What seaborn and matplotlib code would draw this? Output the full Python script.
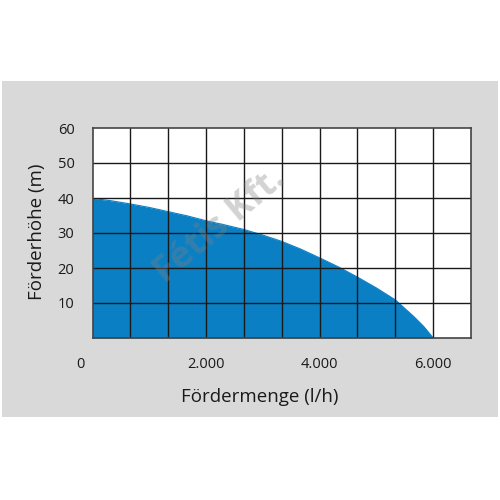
import numpy as np
import pandas as pd
import seaborn as sns
import matplotlib
matplotlib.use("Agg")
import matplotlib.pyplot as plt
from matplotlib.patches import Rectangle
from matplotlib.transforms import ScaledTranslation

# ---- data ----
flow = [0, 333, 667, 1000, 1333, 1667, 2000, 2333, 2667, 3000, 3333, 3667,
        4000, 4333, 4667, 5000, 5333, 5667, 5833, 6000]
head = [39.9, 39.2, 38.3, 37.3, 36.1, 34.9, 33.5, 32.3, 31.0, 29.4, 27.6, 25.4,
        22.9, 20.3, 17.4, 14.3, 10.9, 6.0, 3.3, 0.0]
x_ticks = [0, 2000, 4000, 6000]
x_tick_labels = ["0", "2.000", "4.000", "6.000"]
y_ticks = [10, 20, 30, 40, 50, 60]
y_tick_labels = ["10", "20", "30", "40", "50", "60"]
x_label = "Fördermenge (l/h)"
y_label = "Förderhöhe (m)"
watermark = "Fétis Kft."

df = pd.DataFrame({"flow": flow, "head": head})

sns.set_theme(style="white")
plt.rcParams["font.family"] = ["Open Sans", "DejaVu Sans"]

fig = plt.figure(figsize=(5, 5), dpi=100)
fig.patch.set_facecolor("white")
band = Rectangle((0.004, 1 - 416.5 / 500), 0.992, (416.5 - 81) / 500,
                 transform=fig.transFigure, facecolor="#d9d9d9",
                 edgecolor="none", zorder=-5)
fig.patches.append(band)

ax = fig.add_axes([92.5 / 500, 1 - 338 / 500, (471 - 92.5) / 500, (338 - 128) / 500])
ax.set_zorder(1)
ax.set_facecolor("white")

col = 2000 / 3
xmax = 10 * col
blue = "#0b7fc4"
sns.lineplot(data=df, x="flow", y="head", ax=ax, color=blue, lw=0.8, zorder=2)
ax.fill_between(df["flow"], df["head"], 0, color=blue, lw=0, zorder=2)

ax.set_xlim(0, xmax)
ax.set_ylim(0, 60)

# grid
for i in range(1, 10):
    ax.axvline(i * col, color="#1a1a1a", lw=1.0, zorder=3)
for v in range(10, 60, 10):
    ax.axhline(v, color="#1a1a1a", lw=1.0, zorder=3)

ax.set_xticks(x_ticks)
ax.set_xticklabels(x_tick_labels)
ax.set_yticks(y_ticks)
ax.set_yticklabels(y_tick_labels)
ax.tick_params(axis="both", length=0, labelsize=10.5, colors="#1a1a1a")
ax.tick_params(axis="x", pad=13.5)
ax.tick_params(axis="y", pad=13)
# shift "0" label to the left as in the reference
lbl0 = ax.get_xticklabels()[0]
lbl0.set_transform(lbl0.get_transform() + ScaledTranslation(-12 / 100, 0, fig.dpi_scale_trans))

for s in ax.spines.values():
    s.set_visible(True)
    s.set_color("#444444")
    s.set_linewidth(1.2)
    s.set_zorder(4)

ax.set_xlabel("")
ax.set_ylabel("")
fig.text(260 / 500, 1 - 397 / 500, x_label, ha="center", va="center",
         fontsize=13.5, color="#1a1a1a")
fig.text(37 / 500, 1 - 232 / 500, y_label, ha="center", va="center",
         rotation=90, fontsize=13.5, color="#1a1a1a")

# watermark
fig.text(220 / 500, 1 - 226 / 500, watermark, ha="center", va="center",
         rotation=40, fontsize=26, fontweight="bold", color="#808080",
         alpha=0.35, zorder=10)

fig.savefig("out.png", dpi=100)
